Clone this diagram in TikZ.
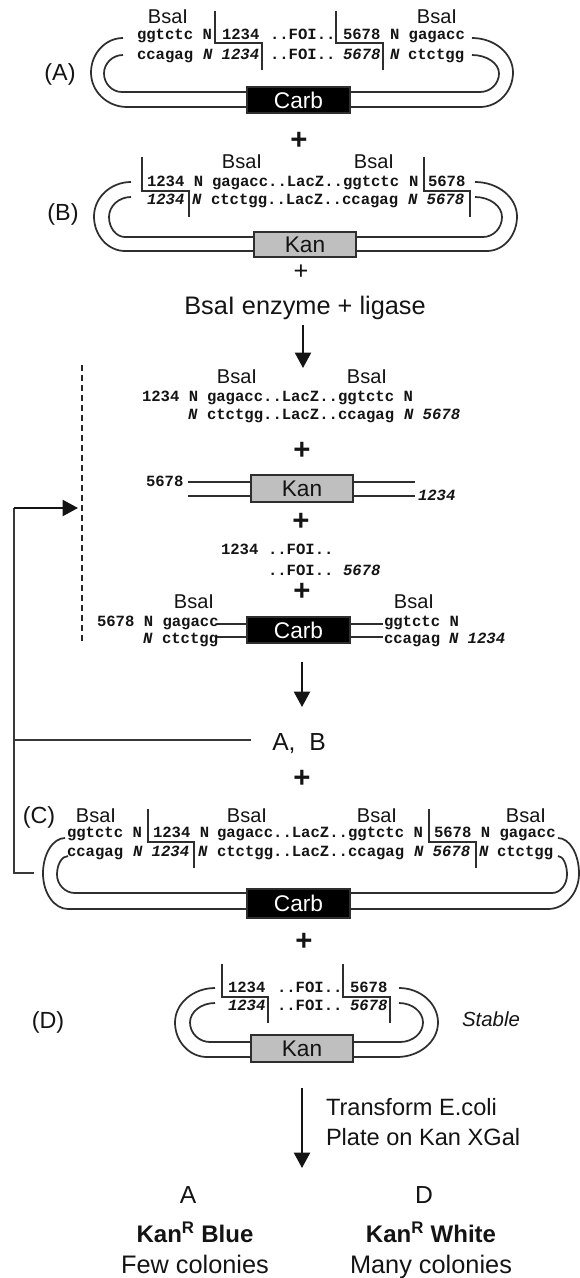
\documentclass[tikz,border=0pt]{standalone}
\usepackage{fontspec}
\setmainfont{Liberation Sans}
\setmonofont{Liberation Mono}
\usetikzlibrary{arrows.meta}
\frenchspacing
\tikzset{
  dna/.style={anchor=base west,inner sep=0pt,outer sep=0pt,font=\fontsize{11.7}{12}\selectfont\ttfamily\bfseries,text=black!92},
  dnai/.style={dna,font=\fontsize{11.7}{12}\selectfont\ttfamily\bfseries\itshape},
  lab/.style={anchor=base,inner sep=0pt,outer sep=0pt,text=black!92},
  bsa/.style={lab,font=\fontsize{15}{15}\selectfont},
  tag/.style={lab,font=\fontsize{17.5}{18}\selectfont},
  big/.style={lab,font=\fontsize{18.5}{20}\selectfont},
  plusbig/.style={inner sep=0pt,font=\fontsize{22}{22}\selectfont\bfseries,text=black!92},
  plussmall/.style={inner sep=0pt,font=\fontsize{19}{19}\selectfont,text=black!92},
  strand/.style={line width=1.3pt,draw=black!82},
  cutline/.style={line width=1.3pt,draw=black!82},
  feed/.style={line width=1.4pt,draw=black!78},
  arrowline/.style={line width=1.6pt,draw=black!92,-{Triangle[length=11.5pt,width=12pt]}},
  genebox/.style={draw=black!82,line width=1.3pt,inner sep=0pt,outer sep=0pt,font=\fontsize{17}{17}\selectfont},
  carbbox/.style={genebox,fill=black,text=white},
  kanbox/.style={genebox,fill=black!25,text=black!92},
}
% name, x, y of row centre, text
\newcommand{\dn}[4]{\node[dna] (#1) at (#2,#3+4) {#4};}
\newcommand{\di}[4]{\node[dnai] (#1) at (#2,#3+4) {#4};}
% name, x1, y1, x2, y2, style, text
\newcommand{\gene}[7]{\node[#6,minimum width={(#4-#2)*0.75pt},minimum height={(#5-#3)*0.75pt}] (#1) at ({(#2+#4)/2},{(#3+#5)/2}) {#7};}
% xtop, xextreme, ytop, ybottom, xbottom, box anchor
\newcommand{\hoop}[6]{%
  \pgfmathsetmacro{\hym}{(#3+#4)/2}%
  \pgfmathsetmacro{\hca}{#1+0.55*(#2-#1)}%
  \pgfmathsetmacro{\hcb}{#5+0.55*(#2-#5)}%
  \pgfmathsetmacro{\hcc}{\hym-0.55*(\hym-#3)}%
  \pgfmathsetmacro{\hcd}{\hym+0.55*(#4-\hym)}%
  \draw[strand] (#1,#3) .. controls (\hca,#3) and (#2,\hcc) .. (#2,\hym)
    .. controls (#2,\hcd) and (\hcb,#4) .. (#5,#4) -- (#6 |- 0,#4);}
% x1, y1, ymid, x2, y2
\newcommand{\cutl}[5]{\draw[cutline] (#1,#2) -- (#1,#3) -- (#4,#3) -- (#4,#5);}
\begin{document}
\begin{tikzpicture}[x=0.75pt,y=-0.75pt]
\useasboundingbox (0,0) rectangle (580,1278);
% ---------- A
\node[bsa] (a1) at (168,23) {BsaI};
\node[bsa] (a2) at (437,23) {BsaI};
\node[tag] (lA) at (60,80) {(A)};
\dn{a3}{137}{35}{ggtctc N}\dn{a4}{222}{35}{1234}\dn{a5}{270}{35}{..FOI..}\dn{a6}{343}{35}{5678}\dn{a7}{390}{35}{N gagacc}
\dn{a8}{137}{55}{ccagag}\di{a9}{203}{55}{N 1234}\dn{a10}{270}{55}{..FOI..}\di{a11}{343}{55}{5678}\di{a12}{390}{55}{N}\dn{a13}{408}{55}{ctctgg}
\cutl{215}{11}{43}{262}{70}
\cutl{336}{11}{43}{383}{70}
\gene{carbA}{247}{87}{350}{113}{carbbox}{Carb}
\hoop{123}{91}{38}{107}{127}{carbA.west}
\hoop{123}{104}{55}{92}{122}{carbA.west}
\hoop{472}{513}{38}{107}{480}{carbA.east}
\hoop{472}{499}{55}{92}{480}{carbA.east}
\node[plusbig] (p1) at (299,141) {+};
% ---------- B
\node[bsa] (b1) at (242,168) {BsaI};
\node[bsa] (b2) at (374,168) {BsaI};
\node[tag] (lB) at (63,220) {(B)};
\dn{b3}{147}{182}{1234 N}\dn{b4}{212}{182}{gagacc..LacZ..ggtctc}\dn{b5}{409}{182}{N}\dn{b6}{428}{182}{5678}
\di{b7}{147}{200}{1234}\di{b8}{192}{200}{N}\dn{b9}{211}{200}{ctctgg..LacZ..ccagag}\di{b10}{408}{200}{N 5678}
\cutl{142}{157}{191}{189}{217}
\cutl{424}{157}{191}{470}{217}
\gene{kanB}{254}{232}{356}{257}{kanbox}{Kan}
\hoop{131}{94}{182}{251}{125}{kanB.west}
\hoop{131}{109}{197}{237}{125}{kanB.west}
\hoop{475}{517}{182}{251}{487}{kanB.east}
\hoop{475}{502}{197}{237}{483}{kanB.east}
\node[plussmall] (p2) at (301,272) {+};
\node[lab,font=\fontsize{19}{20}\selectfont] (enz) at (305,314) {BsaI enzyme + ligase};
\coordinate (ar1a) at (303,325); \coordinate (ar1b) at (303,368);
\draw[arrowline] (ar1a) -- (ar1b);
% ---------- digestion products
\node[bsa] (c1) at (237,383) {BsaI};
\node[bsa] (c2) at (367,383) {BsaI};
\dn{c3}{142}{397}{1234 N}\dn{c4}{207}{397}{gagacc..LacZ..ggtctc N}
\di{c5}{188}{415}{N}\dn{c6}{207}{415}{ctctgg..LacZ..ccagag}\di{c7}{404}{415}{N 5678}
\node[plusbig] (p3) at (302,451) {+};
\gene{kanC}{251}{475}{353}{502}{kanbox}{Kan}
\coordinate (k1) at (188,482); \coordinate (k2) at (188,496); \coordinate (k3) at (415,482); \coordinate (k4) at (415,496);
\draw[strand] (k1) -- (kanC.west |- k1);
\draw[strand] (k2) -- (kanC.west |- k2);
\draw[strand] (k3) -- (kanC.east |- k3);
\draw[strand] (k4) -- (kanC.east |- k4);
\dn{c8}{146}{482}{5678}\di{c9}{418}{496}{1234}
\node[plusbig] (p4) at (301,522) {+};
\dn{c10}{221}{550}{1234}\dn{c11}{268}{550}{..FOI..}
\dn{c12}{268}{571}{..FOI..}\di{c13}{343}{571}{5678}
\node[plusbig] (p5) at (302,592) {+};
\node[bsa] (c14) at (194,608) {BsaI};
\node[bsa] (c15) at (414,608) {BsaI};
\gene{carbC}{247}{617}{350}{643}{carbbox}{Carb}
\coordinate (m1) at (217,624); \coordinate (m2) at (217,637); \coordinate (m3) at (383,624); \coordinate (m4) at (383,637);
\draw[strand] (m1) -- (carbC.west |- m1);
\draw[strand] (m2) -- (carbC.west |- m2);
\draw[strand] (m3) -- (carbC.east |- m3);
\draw[strand] (m4) -- (carbC.east |- m4);
\dn{c16}{97}{622}{5678 N gagacc}
\di{c17}{143}{639}{N}\dn{c18}{162}{639}{ctctgg}
\dn{c19}{384}{622}{ggtctc N}
\dn{c20}{384}{639}{ccagag}\di{c21}{449}{639}{N 1234}
% dashed line and feedback
\coordinate (d1) at (82,365); \coordinate (d2) at (82,643);
\draw[line width=1.4pt,draw=black!85,dash pattern=on 4.5pt off 3pt] (d1) -- (d2);
\coordinate (ar2a) at (302,662); \coordinate (ar2b) at (302,707);
\draw[arrowline] (ar2a) -- (ar2b);
\node[lab,font=\fontsize{18.5}{20}\selectfont] (ab) at (299,750) {A,\ \ B};
\coordinate (f1) at (251,740); \coordinate (f2) at (14,740);
\coordinate (f3) at (34,873); \coordinate (f4) at (14,873); \coordinate (f5) at (14,508); \coordinate (f6) at (78,508);
\draw[feed] (f1) -- (f2);
\draw[feed] (f3) -- (f4) -- (f5);
\draw[line width=1.6pt,draw=black!92,-{Triangle[length=11.5pt,width=12pt]}] (f5) -- (f6);
\node[plusbig] (p6) at (302,779) {+};
% ---------- C
\node[tag] (lC) at (39,823) {(C)};
\node[bsa] (e1) at (96,822) {BsaI};
\node[bsa] (e2) at (247,822) {BsaI};
\node[bsa] (e3) at (377,822) {BsaI};
\node[bsa] (e4) at (526,822) {BsaI};
\dn{e5}{67}{833}{ggtctc N}\dn{e6}{153}{833}{1234 N}\dn{e7}{217}{833}{gagacc..LacZ..ggtctc N}\dn{e8}{434}{833}{5678 N gagacc}
\dn{e9}{67}{852}{ccagag}\di{e10}{133}{852}{N 1234}\di{e11}{198}{852}{N}\dn{e12}{217}{852}{ctctgg..LacZ..ccagag}\di{e13}{414}{852}{N 5678}\di{e14}{479}{852}{N}\dn{e15}{497}{852}{ctctgg}
\cutl{148}{809}{842}{194}{868}
\cutl{429}{809}{842}{476}{868}
\gene{carbE}{247}{889}{350}{918}{carbbox}{Carb}
\hoop{65}{43}{838}{909}{68}{carbE.west}
\hoop{68}{57}{856}{893}{75}{carbE.west}
\hoop{558}{579}{838}{909}{548}{carbE.east}
\hoop{558}{567}{856}{893}{552}{carbE.east}
\node[plusbig] (p7) at (304,942) {+};
% ---------- D
\node[tag] (lD) at (48,1028) {(D)};
\dn{g1}{228}{988}{1234}\dn{g2}{277}{988}{..FOI..}\dn{g3}{350}{988}{5678}
\di{g4}{228}{1006}{1234}\dn{g5}{277}{1006}{..FOI..}\di{g6}{350}{1006}{5678}
\cutl{222}{964}{997}{268}{1023}
\cutl{343}{964}{997}{390}{1023}
\gene{kanG}{251}{1035}{353}{1062}{kanbox}{Kan}
\hoop{215}{175}{988}{1057}{207}{kanG.west}
\hoop{215}{190}{1003}{1042}{210}{kanG.west}
\hoop{399}{438}{988}{1057}{397}{kanG.east}
\hoop{399}{423}{1003}{1042}{400}{kanG.east}
\node[lab,font=\fontsize{15.3}{16}\selectfont\itshape] (st) at (491,1026) {Stable};
% ---------- result
\coordinate (ar3a) at (302,1088); \coordinate (ar3b) at (302,1168);
\draw[arrowline] (ar3a) -- (ar3b);
\node[lab,anchor=base west,font=\fontsize{17.7}{18}\selectfont] (t1) at (326,1115) {Transform E.coli};
\node[lab,anchor=base west,font=\fontsize{17.7}{18}\selectfont] (t2) at (326,1145) {Plate on Kan XGal};
\node[big] (rA) at (188,1203) {A};
\node[big] (rD) at (424,1203) {D};
\node[big,font=\fontsize{18}{20}\selectfont\bfseries] (rk1) at (195,1242) {Kan\textsuperscript{R} Blue};
\node[big,font=\fontsize{18}{20}\selectfont\bfseries] (rk2) at (431,1242) {Kan\textsuperscript{R} White};
\node[big,font=\fontsize{19}{20}\selectfont] (rf1) at (195,1273) {Few colonies};
\node[big,font=\fontsize{19}{20}\selectfont] (rf2) at (431,1273) {Many colonies};
\end{tikzpicture}
\end{document}
